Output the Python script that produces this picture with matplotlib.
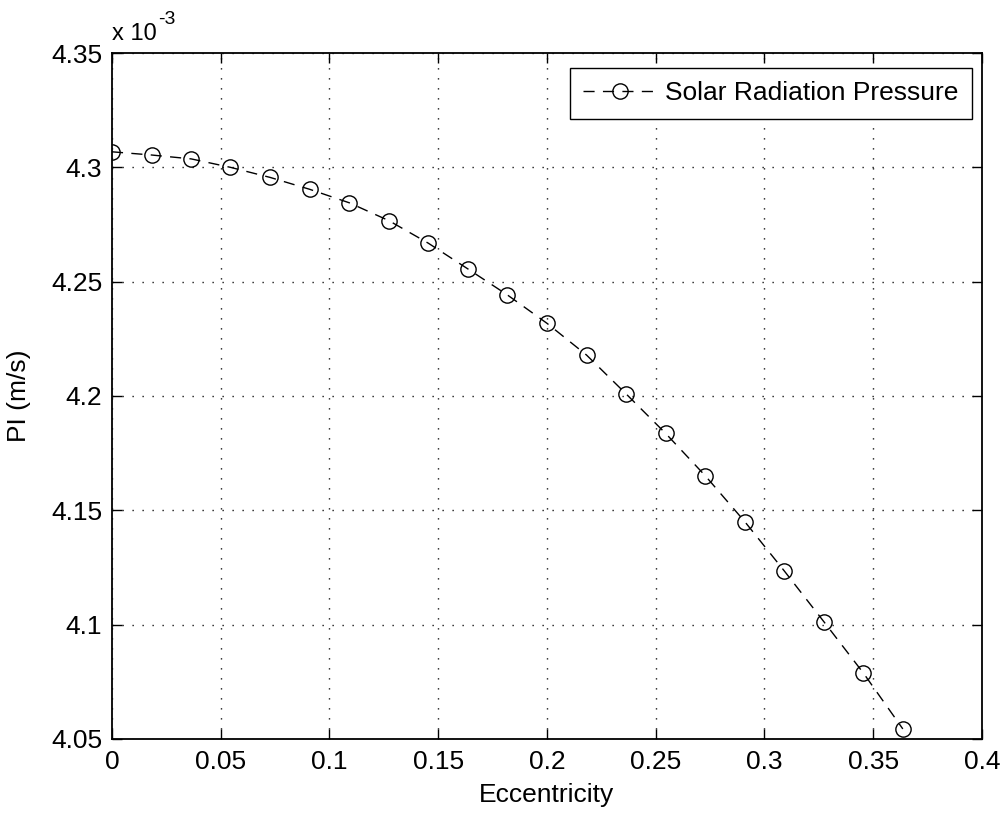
import matplotlib
matplotlib.use("Agg")
import matplotlib.pyplot as plt
from matplotlib.ticker import FuncFormatter

plt.rcParams['font.family'] = ['Liberation Sans', 'DejaVu Sans']

# Eccentricity sweep and resulting PI (m/s) under solar radiation pressure
eccentricity = [0.0, 0.0182, 0.0364, 0.0545, 0.0727, 0.0909, 0.1091, 0.1273,
                0.1455, 0.1636, 0.1818, 0.2000, 0.2182, 0.2364, 0.2545, 0.2727,
                0.2909, 0.3091, 0.3273, 0.3455, 0.3636]
pi_values = [4.3068e-3, 4.3054e-3, 4.3037e-3, 4.3000e-3, 4.2956e-3, 4.2904e-3,
             4.2845e-3, 4.2767e-3, 4.2668e-3, 4.2556e-3, 4.2442e-3, 4.2318e-3,
             4.2179e-3, 4.2009e-3, 4.1837e-3, 4.1652e-3, 4.1451e-3, 4.1235e-3,
             4.1013e-3, 4.0788e-3, 4.0544e-3]

x_ticks = [0, 0.05, 0.1, 0.15, 0.2, 0.25, 0.3, 0.35, 0.4]
y_ticks = [4.05e-3, 4.1e-3, 4.15e-3, 4.2e-3, 4.25e-3, 4.3e-3, 4.35e-3]
series_label = 'Solar Radiation Pressure'

FS = 19

fig = plt.figure(figsize=(10.05, 8.17), dpi=100)
ax = fig.add_axes([0.1114, 0.0955, 0.9771 - 0.1114, 0.9351 - 0.0955])

ax.plot(eccentricity, pi_values, linestyle=(0, (8, 6)), color='black',
        linewidth=1.0, marker='o', markersize=11, markerfacecolor='none',
        markeredgecolor='black', markeredgewidth=1.0, label=series_label)

ax.set_xlim(0, 0.4)
ax.set_ylim(4.05e-3, 4.35e-3)
ax.set_xticks(x_ticks)
ax.set_yticks(y_ticks)

def fmt_num(v):
    s = ('%.2f' % v).rstrip('0').rstrip('.')
    return s

ax.xaxis.set_major_formatter(FuncFormatter(lambda v, p: fmt_num(v)))
ax.yaxis.set_major_formatter(FuncFormatter(lambda v, p: fmt_num(v * 1e3)))

ax.grid(True, color='black', linestyle=(0, (0.9, 6.3)), linewidth=1.0)
ax.tick_params(direction='in', length=7, width=1.0, top=True, right=True,
               labelsize=FS, colors='black')
ax.tick_params(axis='x', pad=8)
ax.tick_params(axis='y', pad=7)
for sp in ax.spines.values():
    sp.set_linewidth(1.3)
    sp.set_color('black')

ax.set_xlabel('Eccentricity', fontsize=FS)
ax.set_ylabel('PI (m/s)', fontsize=FS)
ax.xaxis.set_label_coords(0.5, -0.064)
ax.yaxis.set_label_coords(-0.093, 0.5)

# multiplier for the y tick labels
ax.text(0.0, 1.012, 'x 10', transform=ax.transAxes, fontsize=17,
        ha='left', va='bottom')
ax.text(0.053, 1.036, '-3', transform=ax.transAxes, fontsize=14,
        ha='left', va='bottom')

leg = ax.legend(loc='upper right', bbox_to_anchor=(0.988, 0.978),
                fontsize=FS, frameon=True, fancybox=False,
                edgecolor='black', framealpha=1.0, handlelength=2.8,
                borderpad=0.5, handletextpad=0.3, borderaxespad=0.0)
leg.get_frame().set_linewidth(1.0)

fig.savefig('out.png', dpi=100, facecolor='white')
